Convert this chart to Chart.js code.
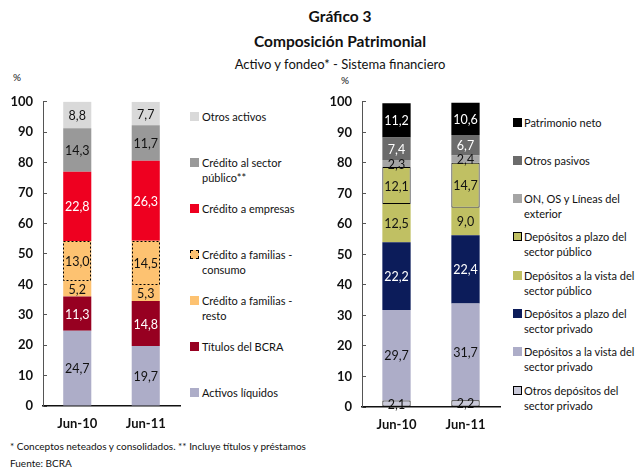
<!DOCTYPE html>
<html>
<head>
<meta charset="utf-8">
<script src="https://cdn.jsdelivr.net/npm/chart.js@4.4.1/dist/chart.umd.min.js"></script>
<style>
  html,body{margin:0;padding:0;background:#fff;}
  body{width:637px;height:470px;position:relative;overflow:hidden;font-family:Lato,"Open Sans",sans-serif;color:#111;}
  .abs{position:absolute;}
  .t1{left:140px;width:400px;text-align:center;font-weight:bold;font-size:15.5px;}
  .t2{left:140px;width:400px;text-align:center;font-size:13px;}
  .pct{font-size:10px;}
  .lg-sq{position:absolute;width:9px;height:9px;box-sizing:border-box;}
  .lg-tx{position:absolute;font-size:11px;line-height:15px;white-space:nowrap;}
  .foot{left:10px;font-size:10px;}
  canvas{position:absolute;}
</style>
</head>
<body>
<div class="abs t1" style="top:7px;">Gráfico 3</div>
<div class="abs t1" style="top:32px;">Composición Patrimonial</div>
<div class="abs t2" style="top:56px;">Activo y fondeo* - Sistema financiero</div>
<div class="abs pct" style="left:13px;top:71px;">%</div>
<div class="abs pct" style="left:341px;top:74px;">%</div>
<canvas id="c1" width="185" height="360" style="left:0;top:80px;"></canvas>
<canvas id="c2" width="185" height="360" style="left:320px;top:80px;"></canvas>
<div id="leg1"></div>
<div id="leg2"></div>
<div class="abs foot" style="top:440px;">* Conceptos neteados y consolidados. ** Incluye títulos y préstamos</div>
<div class="abs foot" style="top:457px;">Fuente: BCRA</div>
<script>
// ---------- DATA ----------
const categories = ["Jun-10", "Jun-11"];

// Left chart (Activo), bottom to top
const activoNames = ["Activos líquidos", "Títulos del BCRA", "Crédito a familias - resto", "Crédito a familias - consumo", "Crédito a empresas", "Crédito al sector público**", "Otros activos"];
const activosLiquidos   = [24.7, 19.7];
const titulosBCRA       = [11.3, 14.8];
const familiasResto     = [5.2, 5.3];
const familiasConsumo   = [13.0, 14.5];
const creditoEmpresas   = [22.8, 26.3];
const creditoSectorPub  = [14.3, 11.7];
const otrosActivos      = [8.8, 7.7];

// Right chart (Fondeo), bottom to top
const fondeoNames = ["Otros depósitos del sector privado", "Depósitos a la vista del sector privado", "Depósitos a plazo del sector privado", "Depósitos a la vista del sector público", "Depósitos a plazo del sector público", "ON, OS y Líneas del exterior", "Otros pasivos", "Patrimonio neto"];
const otrosDepPriv      = [2.1, 2.2];
const vistaPriv         = [29.7, 31.7];
const plazoPriv         = [22.2, 22.4];
const vistaPub          = [12.5, 9.0];
const plazoPub          = [12.1, 14.7];
const onOsLineas        = [2.3, 2.4];
const otrosPasivos      = [7.4, 6.7];
const patrimonioNeto    = [11.2, 10.6];

const yTicks = [0,10,20,30,40,50,60,70,80,90,100];

// ---------- STYLES ----------
const FONT = 'Lato, "Open Sans", sans-serif';
Chart.defaults.font.family = FONT;

const leftStyles = [
  {bg:'#adadc8', lc:'#111'},
  {bg:'#970021', lc:'#fff'},
  {bg:'#fdc271', lc:'#111'},
  {bg:'#fdc271', lc:'#111', dash:true},
  {bg:'#ee0020', lc:'#fff'},
  {bg:'#999999', lc:'#111'},
  {bg:'#d9d9d9', lc:'#111'}
];
const rightStyles = [
  {bg:'#c9c9d9', lc:'#111', border:true},
  {bg:'#adadc8', lc:'#111'},
  {bg:'#0c1c5a', lc:'#fff'},
  {bg:'#c0c063', lc:'#111'},
  {bg:'#c0c063', lc:'#111', border:true},
  {bg:'#a5a5a5', lc:'#111'},
  {bg:'#6b6b6b', lc:'#fff'},
  {bg:'#000000', lc:'#fff'}
];

const leftSeries = [activosLiquidos, titulosBCRA, familiasResto, familiasConsumo, creditoEmpresas, creditoSectorPub, otrosActivos];
const rightSeries = [otrosDepPriv, vistaPriv, plazoPriv, vistaPub, plazoPub, onOsLineas, otrosPasivos, patrimonioNeto];

function fmt(v){ return v.toFixed(1).replace('.', ','); }

const segPlugin = {
  id: 'segLabels',
  afterDatasetsDraw(chart) {
    const ctx = chart.ctx;
    chart.data.datasets.forEach((ds, i) => {
      const meta = chart.getDatasetMeta(i);
      meta.data.forEach((el, j) => {
        const p = el.getProps(['x','y','base','width'], true);
        if (ds.dashBorder) {
          ctx.save();
          ctx.setLineDash([2,2]);
          ctx.strokeStyle = '#000';
          ctx.lineWidth = 1;
          const l = Math.round(p.x - p.width/2) + 0.5;
          const t = Math.round(p.y) + 0.5;
          ctx.strokeRect(l, t, Math.round(p.width) - 1, Math.round(p.base - p.y) - 1);
          ctx.restore();
        }
        ctx.save();
        ctx.fillStyle = ds.labelColor;
        ctx.font = '12.5px ' + FONT;
        ctx.textAlign = 'center';
        ctx.textBaseline = 'middle';
        ctx.fillText(fmt(ds.data[j]), p.x, (p.y + p.base)/2 + 1);
        ctx.restore();
      });
    });
  }
};

function makeChart(id, names, series, styles, yWidth, padTop, xHeight) {
  const datasets = series.map((d, i) => ({
    label: names[i],
    data: d,
    backgroundColor: styles[i].bg,
    borderColor: '#000',
    borderWidth: styles[i].border ? 1 : 0,
    borderSkipped: false,
    labelColor: styles[i].lc,
    dashBorder: !!styles[i].dash,
    barPercentage: 0.41,
    categoryPercentage: 1.0
  }));
  return new Chart(document.getElementById(id), {
    type: 'bar',
    data: {labels: categories, datasets},
    options: {
      responsive: false,
      animation: false,
      layout: {padding: {top: padTop, right: 5, left: 0, bottom: 0}},
      plugins: {legend: {display: false}, tooltip: {enabled: false}},
      scales: {
        x: {
          stacked: true,
          grid: {display: false, drawTicks: false},
          border: {color: '#111', width: 1.5},
          ticks: {font: {family: FONT, weight: 'bold', size: 13}, color: '#111', padding: 10},
          afterFit: s => { s.height = xHeight; }
        },
        y: {
          stacked: true,
          min: 0, max: 100,
          afterBuildTicks: s => { s.ticks = yTicks.map(v => ({value: v})); },
          ticks: {font: {family: FONT, weight: 'bold', size: 13}, color: '#111', padding: 14},
          grid: {drawOnChartArea: false, tickLength: -4, color: '#555'},
          border: {color: '#555', width: 1},
          afterFit: s => { s.width = yWidth; }
        }
      }
    },
    plugins: [segPlugin]
  });
}

makeChart('c1', activoNames, leftSeries, leftStyles, 43, 18, 34);
makeChart('c2', fondeoNames, rightSeries, rightStyles, 42, 15, 33);

// ---------- LEGENDS ----------
const leftLegendText = ["Activos líquidos", "Títulos del BCRA", "Crédito a familias -<br>resto", "Crédito a familias -<br>consumo", "Crédito a empresas", "Crédito al sector<br>público**", "Otros activos"];
const rightLegendText = ["Otros depósitos del<br>sector privado", "Depósitos a la vista del<br>sector privado", "Depósitos a plazo del<br>sector privado", "Depósitos a la vista del<br>sector público", "Depósitos a plazo del<br>sector público", "ON, OS y Líneas del<br>exterior", "Otros pasivos", "Patrimonio neto"];

function buildLegend(containerId, texts, styles, sqX, txX, yTop, step) {
  const c = document.getElementById(containerId);
  const n = texts.length;
  for (let k = 0; k < n; k++) {
    const i = n - 1 - k; // top item is last dataset
    const yc = yTop + k * step;
    const sq = document.createElement('div');
    sq.className = 'lg-sq';
    sq.style.left = sqX + 'px';
    sq.style.top = Math.round(yc - 4.5) + 'px';
    sq.style.background = styles[i].bg;
    if (styles[i].border) sq.style.border = '1px solid #000';
    if (styles[i].dash) sq.style.border = '1px dashed #000';
    c.appendChild(sq);
    const tx = document.createElement('div');
    tx.className = 'lg-tx';
    tx.style.left = txX + 'px';
    tx.style.top = Math.round(yc - 7.5) + 'px';
    tx.innerHTML = texts[i];
    c.appendChild(tx);
  }
}
buildLegend('leg1', leftLegendText, leftStyles, 190, 202, 116, 46);
buildLegend('leg2', rightLegendText, rightStyles, 513, 524, 122, 38.3);
</script>
</body>
</html>
